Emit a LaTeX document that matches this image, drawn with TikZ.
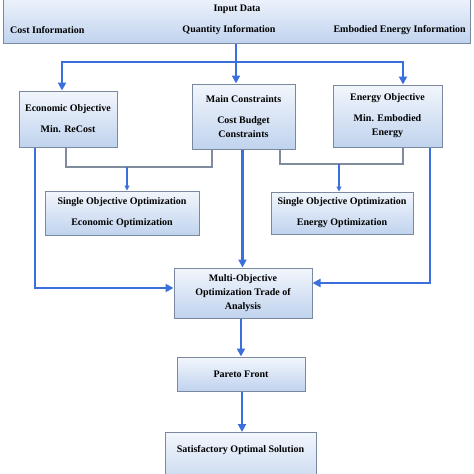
\documentclass[tikz,border=0pt]{standalone}
\usepackage{fontspec}
\setmainfont{Liberation Serif}
\usepackage{tikz}
\usetikzlibrary{arrows.meta}
\definecolor{flowblue}{RGB}{59,111,219}
\definecolor{linkgray}{RGB}{128,140,158}
\definecolor{boxline}{RGB}{122,136,160}
\definecolor{boxtop}{RGB}{242,246,252}
\definecolor{boxbot}{RGB}{192,211,238}

\begin{document}
\begin{tikzpicture}[x=1pt,y=-1pt,
    box/.style={draw=boxline, line width=1pt, top color=boxtop, bottom color=boxbot,
        align=center, font=\bfseries\fontsize{10}{14}\selectfont, inner sep=0pt},
    label/.style={font=\bfseries\fontsize{10}{14}\selectfont, inner sep=0pt},
    flow/.style={draw=flowblue, line width=2.6pt, -{Triangle[length=8pt,width=8pt]}},
    link/.style={draw=linkgray, line width=1.4pt},
    thinflow/.style={draw=flowblue, line width=1.1pt, -{Triangle[length=5pt,width=5pt]}}]

        \useasboundingbox (0,0) rectangle (474,474);

        %input
        \node[box, minimum width=467, minimum height=50] (input) at (236.5,18) {};
        \node[label] (indata) at (237,9) {Input Data};
        \node[label, anchor=west] (cost) at (10,30) {Cost Information};
        \node[label] (quantity) at (229,30) {Quantity Information};
        \node[label, anchor=east] (embodied) at (466,30) {Embodied Energy Information};

        %objectives
        \node[box, minimum width=98, minimum height=56] (eco) at (68,119) {Economic Objective\\[7pt]Min. ReCost};
        \node[box, minimum width=103, minimum height=65] (main) at (243.5,116.5) {Main Constraints\\[7pt]Cost Budget\\Constraints};
        \node[box, minimum width=109, minimum height=62] (energy) at (387.5,116) {Energy Objective\\[7pt]Min. Embodied\\Energy};

        %single
        \node[box, minimum width=154, minimum height=44] (seco) at (122,213) {Single Objective Optimization\\[7pt]Economic Optimization};
        \node[box, minimum width=142, minimum height=42] (senergy) at (342,213) {Single Objective Optimization\\[7pt]Energy Optimization};

        %multi
        \node[box, minimum width=138, minimum height=50] (multi) at (243,293) {Multi-Objective\\Optimization Trade of\\Analysis};
        \node[box, minimum width=128, minimum height=34] (pareto) at (241,374) {Pareto Front};
        \node[box, minimum width=151, minimum height=60, anchor=north] (sat) at (240.5,432) {};
        \node[label] (satlabel) at (240.5,450) {Satisfactory Optimal Solution};

        %arrows from input
        \coordinate (split) at (236,62);
        \draw[draw=flowblue, line width=2.6pt] (input.south -| split) -- (split);
        \draw[flow] (split) -| ([xshift=-6pt]eco.north);
        \draw[flow] (split) -- (split |- main.north);
        \draw[flow] (split) -| ([xshift=15.5pt]energy.north);

        %to single optimization
        \coordinate (joinL) at (127,167);
        \coordinate (joinR) at (339,164);
        \draw[link] ([xshift=-2pt]eco.south) |- (joinL) -| ([xshift=-31.5pt]main.south);
        \draw[link] ([xshift=36.5pt]main.south) |- (joinR) -| ([xshift=15.5pt]energy.south);
        \draw[thinflow] (joinL) -- (joinL |- seco.north);
        \draw[thinflow] (joinR) -- (joinR |- senergy.north);

        %to multi
        \draw[flow] ([xshift=-33pt]eco.south) |- ([yshift=5pt]multi.west);
        \draw[flow] ([xshift=-1pt]main.south) -- ([xshift=-1pt]main.south |- multi.north);
        \draw[flow] ([xshift=42.5pt]energy.south) |- ([yshift=10pt]multi.east);
        \draw[flow] (pareto.north |- multi.south) -- (pareto.north);
        \draw[flow] ([xshift=1pt]pareto.south) -- ([xshift=1pt]pareto.south |- sat.north);

\end{tikzpicture}
\end{document}
